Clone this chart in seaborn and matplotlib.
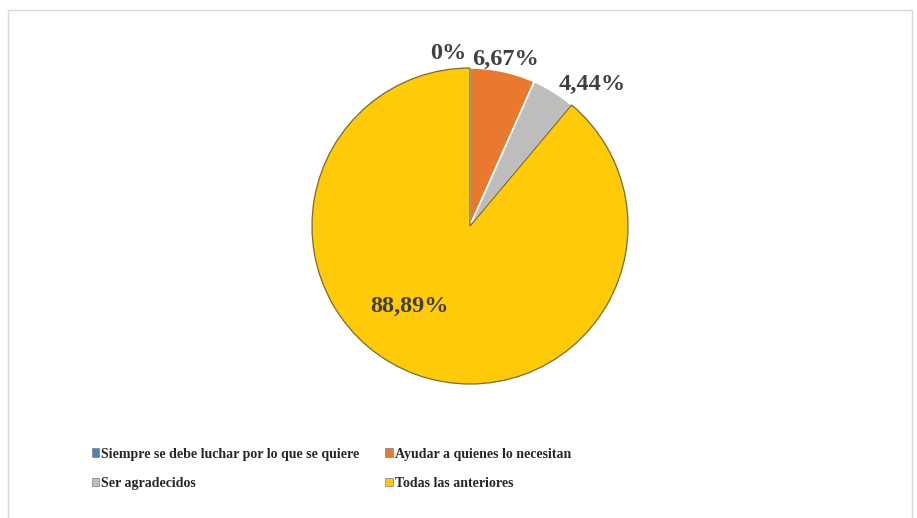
import numpy as np
import matplotlib.pyplot as plt
import matplotlib.patches as mpatches
import seaborn as sns

# datos
categorias = ['Siempre se debe luchar por lo que se quiere', 'Ayudar a quienes lo necesitan',
              'Ser agradecidos', 'Todas las anteriores']
porcentajes = [0.0, 6.67, 4.44, 88.89]
etiquetas = ['0%', '6,67%', '4,44%', '88,89%']

colores = ['#4F81BD', '#E8792F', '#BDBDBD', '#FFCA08']

sns.set_theme(style='white')
plt.rcParams['font.family'] = ['Liberation Serif', 'DejaVu Serif']

fig = plt.figure(figsize=(9.17, 5.18), dpi=100)
W, H = 917, 518
cx, cy, r = 470, 226, 158
ax = fig.add_axes([(cx - r) / W, (H - cy - r) / H, 2 * r / W, 2 * r / H])

wedges, _ = ax.pie(porcentajes, colors=colores, startangle=90, counterclock=False,
                   radius=1, wedgeprops=dict(edgecolor='#7a6a30', linewidth=0.9))
for w in wedges[1:3]:
    w.set_edgecolor('white')
    w.set_linewidth(1.2)
ax.set_xlim(-1, 1)
ax.set_ylim(-1, 1)
ax.set_aspect('equal')

# etiquetas: (distancia radial, desplazamiento de angulo, alineacion)
ubic = [(1.09, 0, 'right'), (1.08, 0, 'center'), (1.06, 0, 'left'), (0.64, -17, 'center')]
for w, txt, (dist, dang, ha) in zip(wedges, etiquetas, ubic):
    ang = np.deg2rad((w.theta1 + w.theta2) / 2 + dang)
    x, y = dist * np.cos(ang), dist * np.sin(ang)
    if ha == 'right':
        x -= 0.02
    ax.text(x, y, txt, ha=ha, va='center', fontsize=17.5, fontweight='bold',
            color='#404040', clip_on=False)

# leyenda en filas
orden = [0, 2, 1, 3]
handles = [mpatches.Patch(facecolor=colores[i], edgecolor='#8c8c8c', linewidth=0.6) for i in orden]
labels = [categorias[i] for i in orden]
fig.legend(handles, labels, loc='upper left', bbox_to_anchor=(86 / W, 1 - 442 / H),
           ncol=2, frameon=False, prop=dict(size=10, weight='bold'),
           handlelength=0.55, handleheight=0.55, handletextpad=0.15,
           columnspacing=1.85, labelspacing=1.2, borderaxespad=0)

# marco
fig.patches.append(mpatches.Rectangle((8 / W, -0.01), 904 / W, 1 - 10 / H + 0.01,
                                      transform=fig.transFigure, fill=False,
                                      edgecolor='#d9d9d9', linewidth=1))

fig.savefig('out.png', dpi=100)
